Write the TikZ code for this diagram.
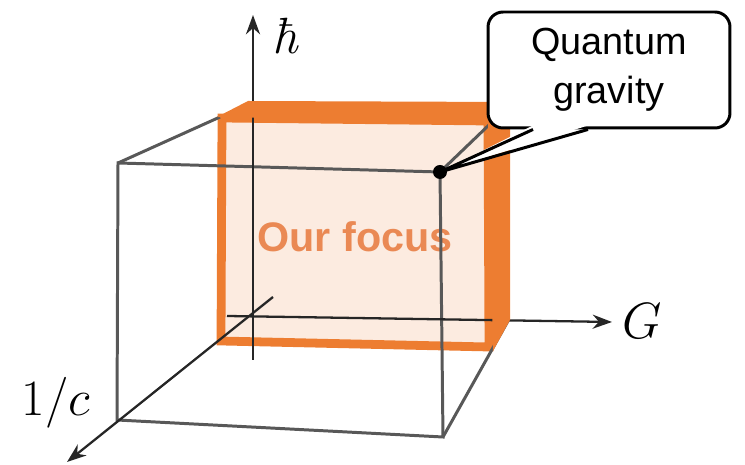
\RequirePackage{fix-cm}
\documentclass[tikz,border=0pt]{standalone}
\usepackage{fontspec}
\newfontfamily\calloutfont{Liberation Sans}
\usetikzlibrary{arrows.meta}

\definecolor{slab orange}{RGB}{237,125,49}
\definecolor{slab fill}{RGB}{252,235,224}
\definecolor{focus text}{RGB}{234,137,84}
\definecolor{edge gray}{RGB}{88,88,88}

\begin{document}
\begin{tikzpicture}[x=0.02cm, y=-0.02cm,
    edge/.style={draw=edge gray, line width=1.7pt},
    axis/.style={draw=black!85, line width=1.3pt, -{Stealth[length=11pt,width=8pt]}},
    axis label/.style={font=\fontsize{29}{31}\selectfont},
    callout box/.style={draw=black, fill=white, line width=1.7pt, rounded corners=0.3cm,
      minimum width=4.84cm, minimum height=2.32cm, inner sep=0pt, align=center,
      font=\calloutfont\fontsize{21.5}{28}\selectfont}]
  \useasboundingbox (0,0) rectangle (745,465);

  % Corner points of the grey cube (front face, then back face)
  \coordinate (front top left)     at (118,163);
  \coordinate (front top right)    at (440,172);
  \coordinate (front bottom right) at (443,437);
  \coordinate (front bottom left)  at (117,420);
  \coordinate (back top left)      at (220,117);
  \coordinate (back top right)     at (490,124);
  \coordinate (back bottom right)  at (508,321);

  % Corner points of the orange slab
  \coordinate (slab top left)     at (222,118);
  \coordinate (slab top right)    at (488,121);
  \coordinate (slab bottom right) at (489,347);
  \coordinate (slab bottom left)  at (221,341);

  % Front face of the slab, light fill and thick border
  \draw[slab orange, fill=slab fill, line width=5pt]
    (slab top left) -- (slab top right) -- (slab bottom right) -- (slab bottom left) -- cycle;
  \node[font=\calloutfont\bfseries\fontsize{23.5}{28}\selectfont, text=focus text]
    (focus label) at (355,237) {Our focus};

  % Cube edges
  \draw[edge] (front top left) -- (front top right) -- (front bottom right) -- (front bottom left) -- cycle;
  \draw[edge] (front top left) -- (back top left);
  \draw[edge] (front top right) -- (back top right);
  \draw[edge] (front bottom right) -- (back bottom right);

  % The three axes
  \coordinate (hbar start) at (253,360);
  \coordinate (hbar end)   at (253,15);
  \coordinate (G start)    at (227,316);
  \coordinate (G end)      at (612,322);
  \coordinate (c start)    at (273,297);
  \coordinate (c end)      at (67,462);
  \draw[axis] (hbar start) -- (hbar end);
  \draw[axis] (G start) -- (G end);
  \draw[axis] (c start) -- (c end);

  % Top and right side of the slab (covers the axes)
  \fill[slab orange] (217,117) -- (248,101) -- (510,102) -- (510,320) -- (493,351)
    -- (slab top right) -- cycle;

  % Axis labels
  \node[axis label] (hbar label) at (285,36)  {\itshape ħ};
  \node[axis label] (G label)    at (642,321) {$G$};
  \node[axis label] (c label)    at (56,403)  {$1/c$};

  % Callout with its tail to the corner point
  \coordinate (qg point) at (front top right);
  \node[callout box] (quantum gravity) at (609,70) {Quantum\\gravity};
  \coordinate (tail left)  at ([xshift=-1.52cm]quantum gravity.south);
  \coordinate (tail right) at ([xshift=-0.42cm]quantum gravity.south);
  \fill[white] ([yshift=0.08cm]tail left) -- (qg point) -- ([yshift=0.08cm]tail right) -- cycle;
  \draw[line width=1.7pt] (tail left) -- (qg point) -- (tail right);
  \node[circle, fill=black, inner sep=0pt, minimum size=0.28cm] (qg dot) at (qg point) {};
\end{tikzpicture}
\end{document}
